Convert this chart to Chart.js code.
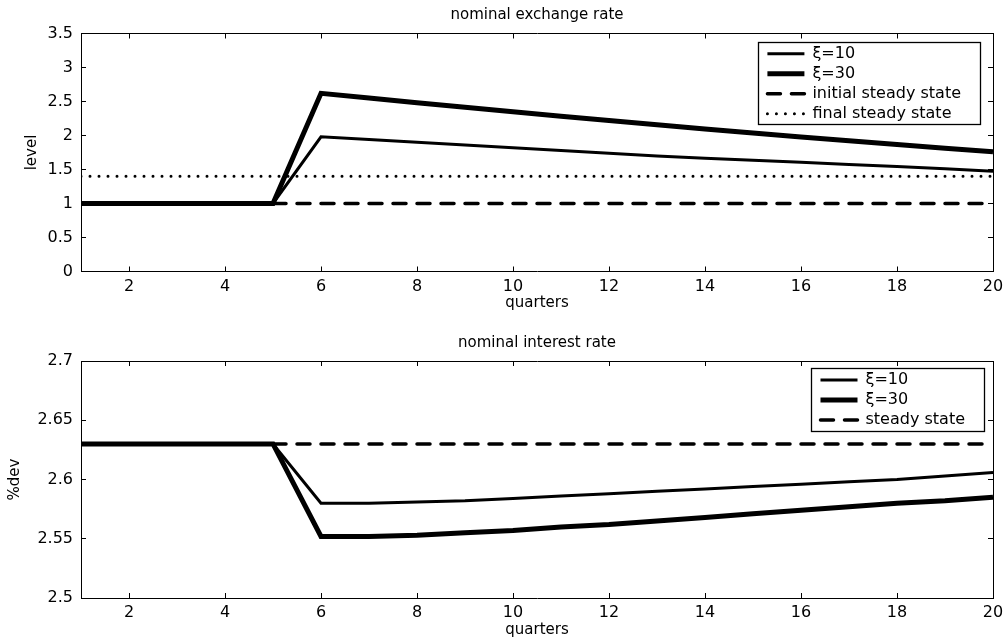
<!DOCTYPE html>
<html>
<head>
<meta charset="utf-8">
<script src="https://cdn.jsdelivr.net/npm/chart.js@4.4.1/dist/chart.umd.min.js"></script>
<style>
  html, body { margin: 0; padding: 0; background: #fff; }
  #wrap { position: relative; width: 1005px; height: 644px; }
  .panel { position: absolute; left: 0; width: 1005px; }
  #topPanel { top: 0; height: 314px; }
  #botPanel { top: 314px; height: 330px; }
</style>
</head>
<body>
<div id="wrap">
  <div class="panel" id="topPanel"><canvas id="fxChart"></canvas></div>
  <div class="panel" id="botPanel"><canvas id="rateChart"></canvas></div>
</div>
<script>
const quarters = [1, 2, 3, 4, 5, 6, 7, 8, 9, 10, 11, 12, 13, 14, 15, 16, 17, 18, 19, 20];
const xTicks = [2, 4, 6, 8, 10, 12, 14, 16, 18, 20];

// nominal exchange rate (level)
const fxXi10 = [1, 1, 1, 1, 1, 1.98, 1.94, 1.90, 1.86, 1.82, 1.78, 1.74, 1.70, 1.665, 1.635, 1.605, 1.575, 1.545, 1.51, 1.475];
const fxXi30 = [1, 1, 1, 1, 1, 2.62, 2.55, 2.481, 2.414, 2.348, 2.283, 2.22, 2.158, 2.097, 2.037, 1.979, 1.922, 1.866, 1.812, 1.76];
const fxInitial = [1, 1, 1, 1, 1, 1, 1, 1, 1, 1, 1, 1, 1, 1, 1, 1, 1, 1, 1, 1];
const fxFinal = [1.4, 1.4, 1.4, 1.4, 1.4, 1.4, 1.4, 1.4, 1.4, 1.4, 1.4, 1.4, 1.4, 1.4, 1.4, 1.4, 1.4, 1.4, 1.4, 1.4];
const fxTicks = [0, 0.5, 1, 1.5, 2, 2.5, 3, 3.5];

// nominal interest rate (%dev)
const rateXi10 = [2.63, 2.63, 2.63, 2.63, 2.63, 2.580, 2.580, 2.581, 2.582, 2.584, 2.586, 2.588, 2.590, 2.592, 2.594, 2.596, 2.598, 2.600, 2.603, 2.606];
const rateXi30 = [2.63, 2.63, 2.63, 2.63, 2.63, 2.552, 2.552, 2.553, 2.555, 2.557, 2.560, 2.562, 2.565, 2.568, 2.571, 2.574, 2.577, 2.580, 2.582, 2.585];
const rateSteady = [2.63, 2.63, 2.63, 2.63, 2.63, 2.63, 2.63, 2.63, 2.63, 2.63, 2.63, 2.63, 2.63, 2.63, 2.63, 2.63, 2.63, 2.63, 2.63, 2.63];
const rateTicks = [2.5, 2.55, 2.6, 2.65, 2.7];

Chart.defaults.font.family = 'DejaVu Sans';
Chart.defaults.color = '#000';

function series(label, values, width, dash, cap) {
    return {
        label: label,
        data: quarters.map((q, i) => ({ x: q, y: values[i] })),
        borderColor: '#000',
        backgroundColor: '#000',
        borderWidth: width,
        borderDash: dash,
        borderCapStyle: cap,
        pointRadius: 0,
        tension: 0,
        fill: false
    };
}

// moves the legend into the top right corner and draws its box
const legendFrame = {
    id: 'legendFrame',
    afterLayout(chart, args, opts) {
        const lg = chart.legend;
        if (!lg || !lg.columnSizes) return;
        const ca = chart.chartArea;
        const pad = lg.options.labels.padding;
        const col = lg.columnSizes[0];
        const right = ca.right - opts.right;
        const left = right - opts.inL - col.width - opts.inR;
        const top = ca.top + opts.top;
        lg.left = left + opts.inL - pad;
        lg.right = right;
        lg.top = top;
        lg.bottom = top + col.height + 200;
        chart.$frame = { left: left, top: top, width: right - left, height: col.height + opts.extraH };
    },
    afterDraw(chart) {
        const f = chart.$frame;
        if (!f) return;
        const ctx = chart.ctx;
        ctx.save();
        ctx.lineWidth = 1.3;
        ctx.strokeStyle = '#000';
        ctx.strokeRect(Math.round(f.left) + 0.5, Math.round(f.top) + 0.5, Math.round(f.width), Math.round(f.height));
        ctx.restore();
    }
};

function xAxis(pos, main, g) {
    return {
        type: 'linear',
        position: pos,
        min: 1,
        max: 20,
        afterBuildTicks: s => { s.ticks = xTicks.map(v => ({ value: v })); },
        afterFit: s => {
            s.height = main ? g.xH : 0;
            s.paddingLeft = 0;
            s.paddingRight = 0;
        },
        ticks: { display: main, autoSkip: false, maxRotation: 0, padding: 10.4, font: { size: 16 }, color: '#000', callback: v => String(v) },
        grid: { drawOnChartArea: false, drawTicks: true, tickLength: -5, color: '#000', lineWidth: 1 },
        border: { display: true, color: '#000', width: 1 },
        title: { display: main, text: 'quarters', font: { size: 15 }, color: '#000', padding: { top: 0, bottom: g.xTitlePad } }
    };
}

function yAxis(pos, main, g) {
    return {
        type: 'linear',
        position: pos,
        min: g.yTicks[0],
        max: g.yTicks[g.yTicks.length - 1],
        afterBuildTicks: s => { s.ticks = g.yTicks.map(v => ({ value: v })); },
        afterFit: s => {
            s.width = main ? 81 : 0;
            s.paddingTop = 0;
            s.paddingBottom = 0;
        },
        ticks: { display: main, autoSkip: false, padding: 13, font: { size: 16 }, color: '#000', callback: v => String(v) },
        grid: { drawOnChartArea: false, drawTicks: true, tickLength: -5, color: '#000', lineWidth: 1 },
        border: { display: true, color: '#000', width: 1 },
        title: { display: main, text: g.yLabel, font: { size: 15 }, color: '#000', padding: { top: g.yTitlePad, bottom: 0 } }
    };
}

function buildChart(id, g) {
    return new Chart(document.getElementById(id), {
        type: 'line',
        data: { datasets: g.datasets },
        options: {
            responsive: true,
            maintainAspectRatio: false,
            animation: false,
            layout: { padding: { left: 0, right: 12, top: 0, bottom: 0 } },
            scales: {
                x: xAxis('bottom', true, g),
                x2: xAxis('top', false, g),
                y: yAxis('left', true, g),
                y2: yAxis('right', false, g)
            },
            plugins: {
                title: {
                    display: true,
                    text: g.title,
                    fullSize: false,
                    color: '#000',
                    font: { size: 15, weight: 'normal' },
                    padding: g.titlePad
                },
                legend: {
                    position: 'chartArea',
                    align: 'start',
                    labels: {
                        usePointStyle: true,
                        pointStyle: 'line',
                        pointStyleWidth: 37,
                        padding: 4,
                        color: '#000',
                        font: { size: 16 },
                        generateLabels: chart => chart.data.datasets.map((ds, i) => ({
                            text: ds.label,
                            fillStyle: '#000',
                            strokeStyle: '#000',
                            fontColor: '#000',
                            lineWidth: ds.borderWidth,
                            lineDash: ds.borderDash,
                            lineCap: ds.borderCapStyle,
                            pointStyle: 'line',
                            hidden: false,
                            datasetIndex: i
                        }))
                    }
                },
                legendFrame: g.frame,
                tooltip: { enabled: false }
            }
        },
        plugins: [legendFrame]
    });
}

buildChart('fxChart', {
    title: 'nominal exchange rate',
    titlePad: { top: 6.5, bottom: 9 },
    yLabel: 'level',
    yTitlePad: 22.7,
    yTicks: fxTicks,
    xH: 42.5,
    xTitlePad: 2,
    frame: { top: 8.2, right: 13, inL: 9, inR: 19, extraH: 2 },
    datasets: [
        series('\u03BE=10', fxXi10, 3, [], 'butt'),
        series('\u03BE=30', fxXi30, 5, [], 'butt'),
        series('initial steady state', fxInitial, 3.5, [13, 11], 'round'),
        series('final steady state', fxFinal, 3, [0, 9], 'round')
    ]
});

buildChart('rateChart', {
    title: 'nominal interest rate',
    titlePad: { top: 20, bottom: 9 },
    yLabel: '%dev',
    yTitlePad: 6.5,
    yTicks: rateTicks,
    xH: 46,
    xTitlePad: 5,
    frame: { top: 7, right: 10, inL: 10, inR: 18, extraH: 3 },
    datasets: [
        series('\u03BE=10', rateXi10, 3, [], 'butt'),
        series('\u03BE=30', rateXi30, 5, [], 'butt'),
        series('steady state', rateSteady, 3.5, [13, 11], 'round')
    ]
});
</script>
</body>
</html>
